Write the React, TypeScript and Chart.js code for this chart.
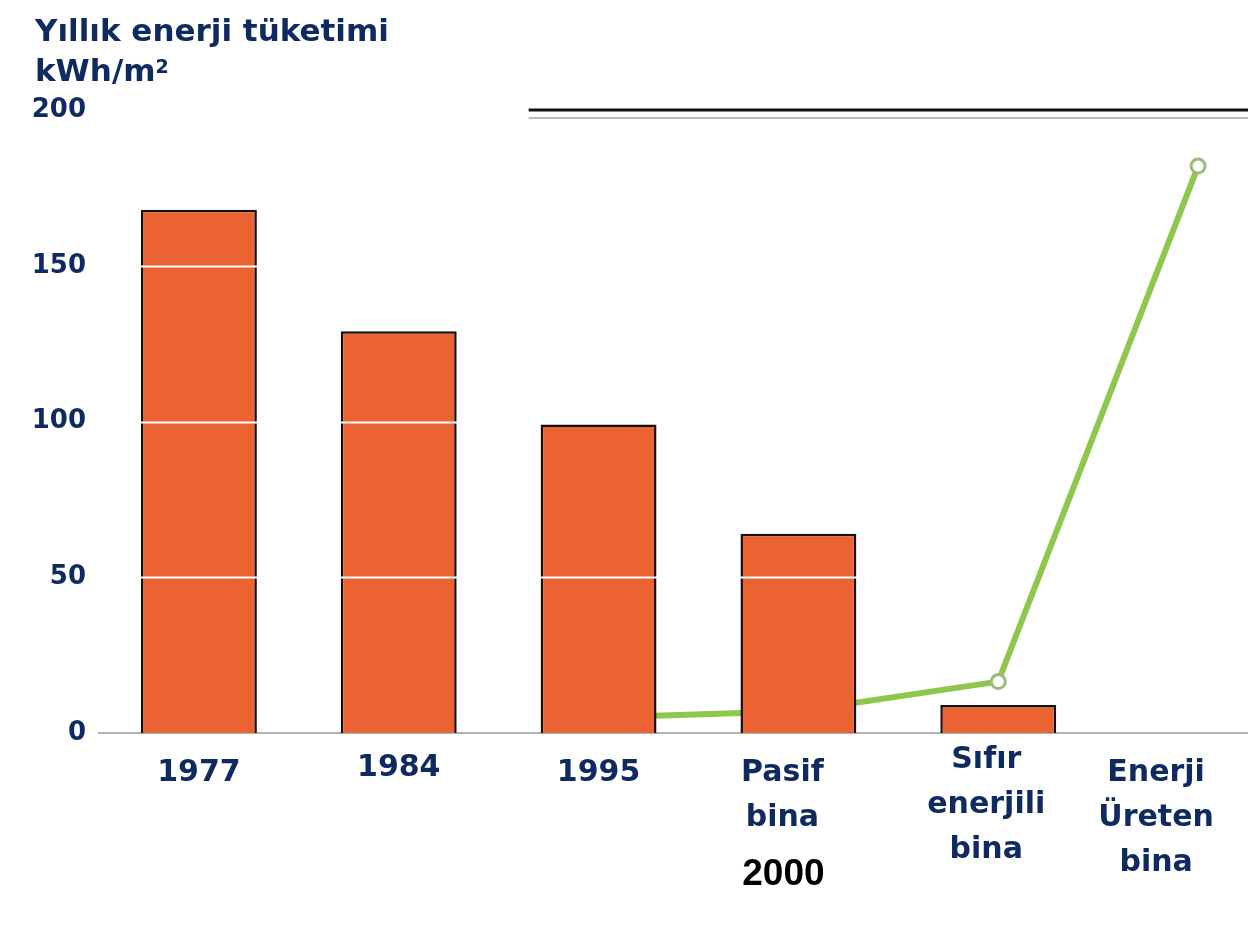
import React, { useEffect, useRef } from "react";
import { Chart, registerables } from "chart.js";

Chart.register(...registerables);

// Annual energy use per building type (kWh/m²)
const categories = ["1977", "1984", "1995", "Pasif bina", "Sıfır enerjili bina", "Enerji Üreten bina"];
const categoryLines = [["1977"], ["1984"], ["1995"], ["Pasif", "bina"], ["Sıfır", "enerjili", "bina"], ["Enerji", "Üreten", "bina"]];
const consumption = [168, 129, 99, 64, 9, null];
const production = [null, null, 5, 7, 16.5, 182];
const yTicks = [0, 50, 100, 150, 200];
const pasifYear = "2000";
const titleLine1 = "Yıllık enerji tüketimi";
const titleUnit = "kWh/m";

const NAVY = "#0f2a60";
const FONT = "'DejaVu Sans', sans-serif";

// per-label nudges for the category captions
const labelDx = [0, 0, 0, -16, -12, -42];
const labelDy = [40, 35, 40, 40, 27, 40];
const lineGap = 45;

const decorPlugin = {
  id: "decor",
  afterDatasetDraw(chart: any, args: any) {
    if (args.index !== 0) return;
    const ctx = chart.ctx;
    const ys = chart.scales.y;
    const meta = chart.getDatasetMeta(0);
    ctx.save();
    ctx.strokeStyle = "#ffffff";
    ctx.lineWidth = 2;
    meta.data.forEach((bar: any, i: number) => {
      if (consumption[i] == null) return;
      const p = bar.getProps(["x", "y", "base", "width"], true);
      yTicks.forEach((v) => {
        if (v <= 0) return;
        const py = Math.round(ys.getPixelForValue(v)) + 0.5;
        if (py > p.y + 2 && py < p.base) {
          ctx.beginPath();
          ctx.moveTo(p.x - p.width / 2 - 4, py);
          ctx.lineTo(p.x + p.width / 2 + 1, py);
          ctx.stroke();
        }
      });
    });
    ctx.restore();
  },
  afterDraw(chart: any) {
    const ctx = chart.ctx;
    const xs = chart.scales.x;
    const ys = chart.scales.y;
    const area = chart.chartArea;
    ctx.save();
    // rule at the top of the value range
    const topY = Math.round(ys.getPixelForValue(200));
    const startX = xs.getPixelForValue(1.65);
    ctx.strokeStyle = "#111111";
    ctx.lineWidth = 3;
    ctx.beginPath();
    ctx.moveTo(startX, topY);
    ctx.lineTo(chart.width, topY);
    ctx.stroke();
    ctx.strokeStyle = "#b9b9c9";
    ctx.lineWidth = 2;
    ctx.beginPath();
    ctx.moveTo(startX, topY + 8);
    ctx.lineTo(chart.width, topY + 8);
    ctx.stroke();

    // category captions
    ctx.fillStyle = NAVY;
    ctx.font = `bold 30px ${FONT}`;
    ctx.textAlign = "center";
    ctx.textBaseline = "middle";
    categoryLines.forEach((lines, i) => {
      const cx = xs.getPixelForValue(i) + labelDx[i];
      lines.forEach((t, j) => {
        ctx.fillText(t, cx, area.bottom + labelDy[i] + j * lineGap);
      });
    });
    // year under the passive building label
    ctx.fillStyle = "#000000";
    ctx.font = `bold 37px 'Liberation Sans', Arial, sans-serif`;
    ctx.fillText(pasifYear, xs.getPixelForValue(3) - 15, area.bottom + 142);
    ctx.restore();
  },
};

export default function App() {
  const canvasRef = useRef<HTMLCanvasElement | null>(null);

  useEffect(() => {
    const canvas = canvasRef.current;
    if (!canvas) return;
    const chart = new Chart(canvas, {
      type: "bar",
      data: {
        labels: categories,
        datasets: [
          {
            type: "bar",
            data: consumption,
            backgroundColor: "#eb6333",
            borderColor: "#111111",
            borderWidth: 2.5,
            categoryPercentage: 1,
            barPercentage: 0.58,
            order: 0,
          } as any,
          {
            type: "line",
            data: production,
            borderColor: "#8fc64c",
            borderWidth: 6,
            tension: 0,
            pointRadius: 7,
            pointBorderWidth: 3,
            pointBackgroundColor: "#ffffff",
            pointBorderColor: "#9cba80",
            spanGaps: false,
            order: 1,
          } as any,
        ],
      },
      options: {
        responsive: false,
        animation: false,
        layout: { padding: { top: 110, right: 3, left: 0, bottom: 0 } },
        plugins: { legend: { display: false }, tooltip: { enabled: false } },
        scales: {
          x: {
            offset: true,
            grid: { display: false },
            border: { display: true, color: "#b3b3b3", width: 2 },
            ticks: { display: false },
            afterFit: (scale: any) => {
              scale.height = 204;
            },
          },
          y: {
            min: 0,
            max: 200,
            grid: { display: false },
            border: { display: false },
            afterBuildTicks: (scale: any) => {
              scale.ticks = yTicks.map((v) => ({ value: v }));
            },
            ticks: {
              color: NAVY,
              padding: 5,
              font: { family: FONT, size: 26, weight: "bold" },
            },
            afterFit: (scale: any) => {
              scale.width = 99;
            },
          },
        },
      },
      plugins: [decorPlugin],
    });
    return () => chart.destroy();
  }, []);

  return (
    <div
      style={{
        position: "absolute",
        left: 0,
        top: 0,
        width: 1248,
        height: 937,
        overflow: "hidden",
        background: "#ffffff",
      }}
    >
      <canvas ref={canvasRef} width={1308} height={937} style={{ position: "absolute", left: 0, top: 0 }} />
      <div
        style={{
          position: "absolute",
          left: 35,
          top: 10,
          fontFamily: FONT,
          fontWeight: "bold",
          fontSize: 31,
          color: NAVY,
          lineHeight: "40px",
          whiteSpace: "nowrap",
        }}
      >
        <div>{titleLine1}</div>
        <div>
          {titleUnit}
          <sup style={{ fontSize: 19, verticalAlign: "top", position: "relative", top: -4 }}>2</sup>
        </div>
      </div>
    </div>
  );
}
